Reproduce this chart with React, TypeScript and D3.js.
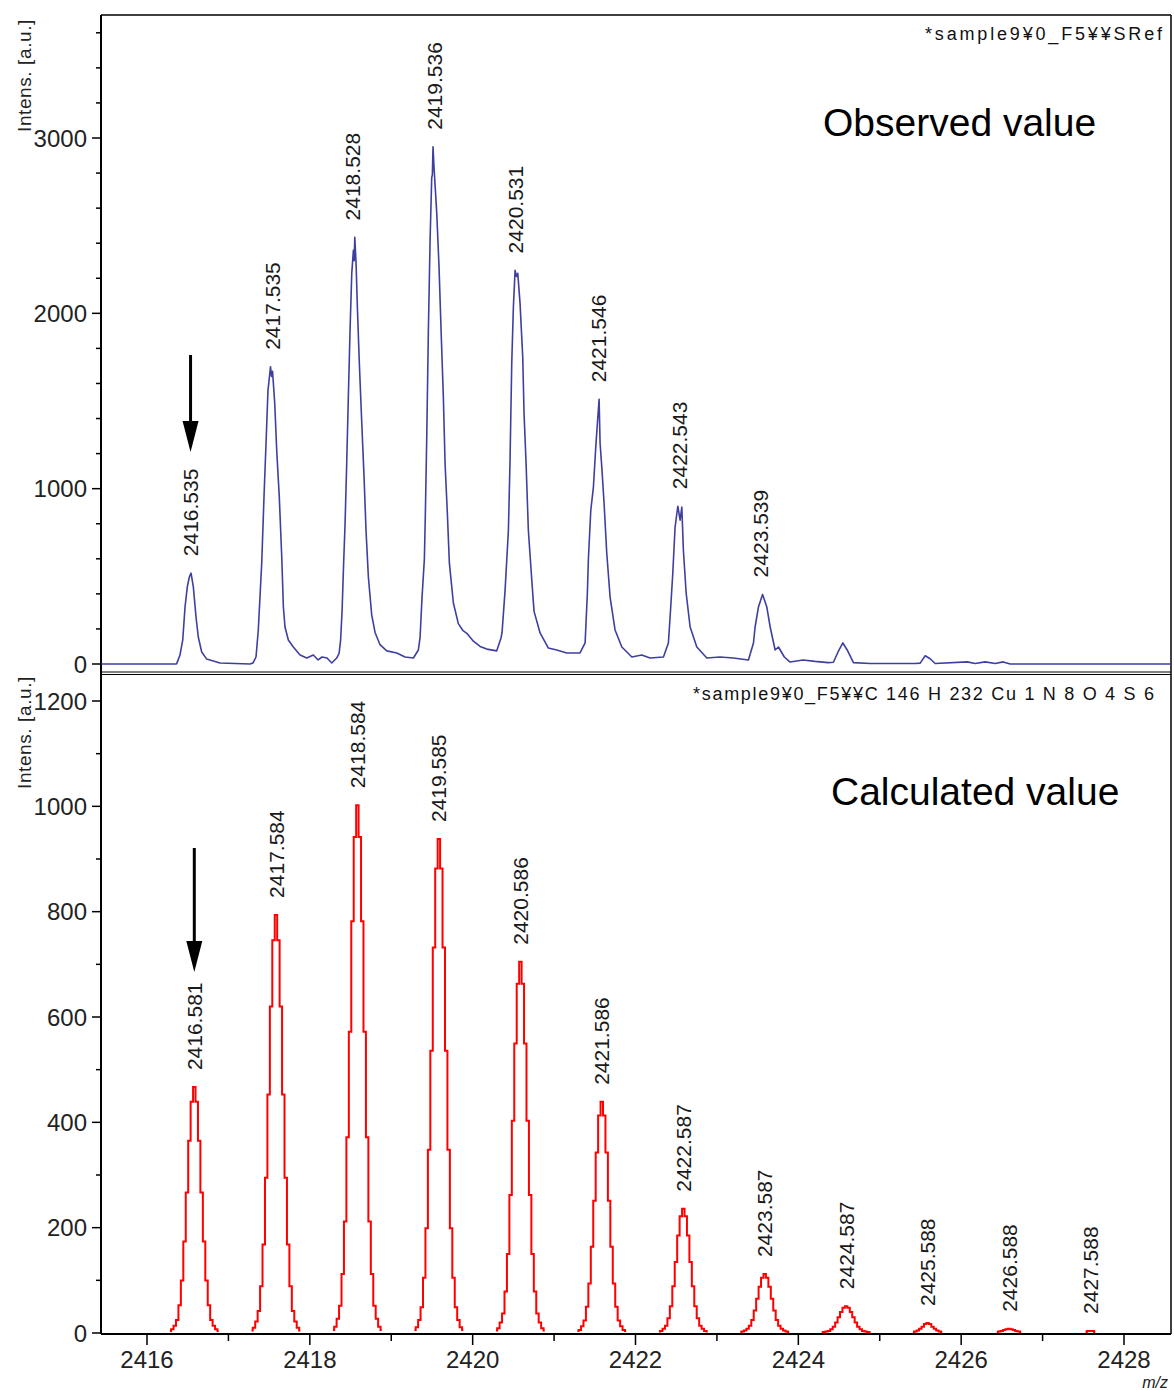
import React from "react";
import * as d3 from "d3";

// observed spectrum (m/z, intensity)
const observedPoints: [number, number][] = [
    [2415.44, 0], [2416.36, 0], [2416.365, 2], [2416.405, 51], [2416.439, 137], [2416.467, 325],
    [2416.495, 440], [2416.52, 496], [2416.541, 518], [2416.569, 440], [2416.602, 268], [2416.63, 154],
    [2416.672, 68], [2416.733, 28], [2416.897, 6], [2417.265, 0], [2417.302, 6], [2417.339, 40],
    [2417.367, 194], [2417.409, 575], [2417.437, 952], [2417.462, 1259], [2417.486, 1561], [2417.517, 1695],
    [2417.53, 1640], [2417.542, 1670], [2417.569, 1487], [2417.593, 1219], [2417.625, 952], [2417.655, 610],
    [2417.675, 325], [2417.695, 211], [2417.736, 137], [2417.797, 97], [2417.88, 51], [2417.962, 34],
    [2418.043, 51], [2418.101, 23], [2418.15, 40], [2418.211, 34], [2418.269, 6], [2418.33, 34],
    [2418.359, 60], [2418.377, 130], [2418.396, 300], [2418.414, 560], [2418.432, 790], [2418.453, 1145],
    [2418.473, 1522], [2418.494, 1903], [2418.515, 2228], [2418.535, 2359], [2418.545, 2300], [2418.552, 2433],
    [2418.568, 2285], [2418.584, 2034], [2418.608, 1715], [2418.638, 1373], [2418.666, 1066], [2418.69, 763],
    [2418.719, 496], [2418.76, 280], [2418.801, 180], [2418.862, 110], [2418.945, 75], [2419.068, 63],
    [2419.17, 40], [2419.272, 34], [2419.333, 80], [2419.354, 150], [2419.378, 380], [2419.407, 600],
    [2419.419, 860], [2419.436, 1293], [2419.456, 1903], [2419.477, 2416], [2419.497, 2775], [2419.505, 2790],
    [2419.513, 2950], [2419.526, 2826], [2419.559, 2570], [2419.587, 2262], [2419.612, 1903], [2419.64, 1522],
    [2419.661, 1145], [2419.689, 860], [2419.714, 575], [2419.763, 348], [2419.824, 230], [2419.882, 190],
    [2419.928, 175], [2420.009, 130], [2420.091, 100], [2420.173, 85], [2420.296, 75], [2420.349, 150],
    [2420.361, 180], [2420.398, 420], [2420.439, 763], [2420.459, 1162], [2420.48, 1715], [2420.5, 2034],
    [2420.521, 2245], [2420.539, 2210], [2420.554, 2228], [2420.582, 2057], [2420.615, 1749], [2420.631, 1430],
    [2420.656, 1145], [2420.684, 763], [2420.726, 479], [2420.754, 300], [2420.828, 177], [2420.93, 91],
    [2421.033, 80], [2421.156, 63], [2421.319, 63], [2421.381, 120], [2421.409, 405], [2421.421, 593],
    [2421.451, 877], [2421.483, 1009], [2421.512, 1237], [2421.537, 1407], [2421.553, 1510], [2421.565, 1259],
    [2421.586, 1123], [2421.614, 917], [2421.647, 632], [2421.688, 382], [2421.749, 194], [2421.832, 97],
    [2421.955, 40], [2422.077, 51], [2422.179, 34], [2422.343, 40], [2422.404, 120], [2422.425, 268],
    [2422.458, 518], [2422.486, 780], [2422.52, 900], [2422.548, 820], [2422.569, 895], [2422.588, 650],
    [2422.622, 405], [2422.671, 211], [2422.753, 97], [2422.876, 34], [2423.039, 40], [2423.203, 34],
    [2423.387, 23], [2423.449, 120], [2423.469, 211], [2423.51, 325], [2423.561, 397], [2423.613, 325],
    [2423.654, 211], [2423.715, 80], [2423.756, 97], [2423.828, 40], [2423.899, 11], [2424.059, 23],
    [2424.206, 15], [2424.366, 8], [2424.431, 10], [2424.489, 70], [2424.547, 120], [2424.6, 80],
    [2424.677, 8], [2424.882, 3], [2425.251, 3], [2425.435, 3], [2425.497, 5], [2425.558, 47],
    [2425.619, 30], [2425.681, 3], [2426.074, 12], [2426.172, 3], [2426.295, 12], [2426.418, 3],
    [2426.516, 12], [2426.602, 0], [2428.57, 0],
];

const observedLabels = ["2416.535", "2417.535", "2418.528", "2419.536", "2420.531", "2421.546", "2422.543", "2423.539"];

// calculated isotope pattern: peak centres and sampled profile around each
const calcLabels = ["2416.581", "2417.584", "2418.584", "2419.585", "2420.586", "2421.586",
    "2422.587", "2423.587", "2424.587", "2425.588", "2426.588", "2427.588"];
const calcOffsets = [-0.3, -0.27, -0.24, -0.21, -0.18, -0.15, -0.12, -0.09, -0.06, -0.03, 0,
    0.03, 0.06, 0.09, 0.12, 0.15, 0.18, 0.21, 0.24, 0.27, 0.3];
const calcProfiles = [
    [2, 5, 12, 23, 51, 98, 172, 265, 363, 437, 465, 437, 363, 265, 172, 98, 51, 23, 12, 5, 2],
    [3, 8, 20, 40, 87, 166, 293, 451, 618, 744, 792, 744, 618, 451, 293, 166, 87, 40, 20, 8, 3],
    [4, 10, 25, 50, 110, 210, 370, 570, 780, 940, 1000, 940, 780, 570, 370, 210, 110, 50, 25, 10, 4],
    [4, 9, 23, 47, 103, 197, 346, 534, 730, 880, 936, 880, 730, 534, 346, 197, 103, 47, 23, 9, 4],
    [3, 7, 18, 35, 77, 148, 260, 401, 548, 661, 703, 661, 548, 401, 260, 148, 77, 35, 18, 7, 3],
    [2, 4, 11, 22, 48, 92, 162, 249, 341, 411, 437, 411, 341, 249, 162, 92, 48, 22, 11, 4, 2],
    [1, 2, 6, 12, 26, 49, 87, 133, 183, 220, 234, 220, 183, 133, 87, 49, 26, 12, 6, 2, 1],
    [0, 1, 3, 6, 12, 23, 41, 63, 86, 103, 110, 103, 86, 63, 41, 23, 12, 6, 3, 1, 0],
    [0, 0, 1, 2, 5, 10, 18, 28, 38, 46, 49, 46, 38, 28, 18, 10, 5, 2, 1, 0, 0],
    [0, 0, 0, 0, 0, 1, 3, 6, 10, 15, 17, 15, 10, 6, 3, 1, 0, 0, 0, 0, 0],
    [0, 0, 0, 0, 0, 0, 1, 2, 4, 5, 6, 5, 4, 2, 1, 0, 0, 0, 0, 0, 0],
    [0, 0, 0, 0, 0, 0, 0, 0, 0, 2, 2, 2, 0, 0, 0, 0, 0, 0, 0, 0, 0],
];

const xTicks = d3.range(2416, 2429, 1);
const obsTicks = d3.range(0, 3601, 200);
const calcTicks = d3.range(0, 1201, 100);

const FONT = "'Liberation Sans', Arial, Helvetica, sans-serif";

export default function App() {
    const left = 101, right = 1171, top = 15, sep = 672, bottom = 1334;

    const x = d3.scaleLinear().domain([2416, 2428]).range([147, 1124]);
    const yObs = d3.scaleLinear().domain([0, 3000]).range([664, 138]);
    const yCalc = d3.scaleLinear().domain([0, 1200]).range([1333, 701]);

    const obsLine = d3.line<[number, number]>().x((d) => x(d[0])).y((d) => yObs(d[1]));
    const calcLine = d3.line<[number, number]>()
        .x((d) => x(d[0]))
        .y((d) => yCalc(d[1]) - 1)
        .curve(d3.curveStep);

    // height of the observed trace around each labelled m/z
    const obsPeakTop = (mz: number) =>
        d3.max(observedPoints.filter((p) => Math.abs(p[0] - mz) < 0.08), (p) => p[1]) ?? 0;

    const label = (key: string, px: number, py: number) => (
        <text key={key} transform={`translate(${px},${py}) rotate(-90)`} dy="0.36em"
              fontSize={21} fill="#1a1a1a">{key}</text>
    );

    const arrow = (ax: number, y1: number, y2: number) => (
        <g>
            <line x1={ax} x2={ax} y1={y1} y2={y2 - 20} stroke="#000" strokeWidth={3} />
            <path d={`M${ax - 8},${y2 - 31} L${ax + 8},${y2 - 31} L${ax},${y2} Z`} fill="#000" />
        </g>
    );

    return (
        <div>
            <style>{`body{margin:0}`}</style>
            <svg width={1174} height={1390} style={{ display: "block", fontFamily: FONT }}>
                <rect width={1174} height={1390} fill="#fff" />

                {/* frames */}
                <g stroke="#000" fill="none">
                    <line x1={left} x2={right} y1={top} y2={top} strokeWidth={1.5} />
                    <line x1={left} x2={left} y1={top} y2={bottom} strokeWidth={2} />
                    <line x1={right} x2={right} y1={top} y2={bottom} strokeWidth={1.5} />
                    <line x1={left} x2={right} y1={sep} y2={sep} strokeWidth={1.2} />
                    <line x1={left} x2={right} y1={sep + 2.5} y2={sep + 2.5} strokeWidth={1.2} />
                    <line x1={left} x2={right} y1={bottom} y2={bottom} strokeWidth={2} />
                </g>

                {/* y axis, observed */}
                {obsTicks.map((t) => (
                    <g key={"o" + t}>
                        <line x1={t % 1000 === 0 ? 92 : 96} x2={left} y1={yObs(t)} y2={yObs(t)} stroke="#000" strokeWidth={1.5} />
                        {t % 1000 === 0 && (
                            <text x={87} y={yObs(t)} dy="0.36em" textAnchor="end" fontSize={24} fill="#222">{t}</text>
                        )}
                    </g>
                ))}

                {/* y axis, calculated */}
                {calcTicks.map((t) => (
                    <g key={"c" + t}>
                        <line x1={t % 200 === 0 ? 92 : 96} x2={left} y1={yCalc(t)} y2={yCalc(t)} stroke="#000" strokeWidth={1.5} />
                        {t % 200 === 0 && (
                            <text x={87} y={yCalc(t)} dy="0.36em" textAnchor="end" fontSize={24} fill="#222">{t}</text>
                        )}
                    </g>
                ))}

                {/* x axis */}
                {xTicks.map((t) => (
                    <g key={"x" + t}>
                        <line x1={x(t)} x2={x(t)} y1={bottom} y2={t % 2 === 0 ? bottom + 11 : bottom + 7} stroke="#000" strokeWidth={1.5} />
                        {t % 2 === 0 && (
                            <text x={x(t)} y={1368} textAnchor="middle" fontSize={24} fill="#222">{t}</text>
                        )}
                    </g>
                ))}
                <text x={1168} y={1388} textAnchor="end" fontSize={16} fill="#222" fontStyle="italic">m/z</text>

                {/* axis titles */}
                <text transform="translate(31,132) rotate(-90)" fontSize={19} letterSpacing={0.6} fill="#222">Intens. [a.u.]</text>
                <text transform="translate(31,789) rotate(-90)" fontSize={19} letterSpacing={0.6} fill="#222">Intens. [a.u.]</text>

                {/* headers */}
                <text x={925} y={40} fontSize={18} textLength={237} lengthAdjust="spacing" fill="#111">*sample9¥0_F5¥¥SRef</text>
                <text x={693} y={700} fontSize={18} textLength={461} lengthAdjust="spacing" fill="#111">*sample9¥0_F5¥¥C 146 H 232 Cu 1 N 8 O 4 S 6</text>

                <text x={823} y={136} fontSize={39} fill="#000">Observed value</text>
                <text x={831} y={805} fontSize={39} fill="#000">Calculated value</text>

                {/* spectra */}
                <path d={obsLine(observedPoints) ?? ""} fill="none" stroke="#3f3fa0" strokeWidth={1.6} strokeLinejoin="round" />
                {calcLabels.map((c, i) => {
                    // small peaks: only the samples that carry intensity are drawn
                    const pts = calcOffsets
                        .map((o, j) => [+c + o, calcProfiles[i][j]] as [number, number])
                        .filter((p, j, arr) => i < 9 || p[1] > 0 || (arr[j - 1] && arr[j - 1][1] > 0) || (arr[j + 1] && arr[j + 1][1] > 0));
                    return <path key={c} d={calcLine(pts) ?? ""} fill="none" stroke="#ff0000" strokeWidth={2} />;
                })}

                {/* peak labels */}
                {observedLabels.map((l) => label(l, x(+l), yObs(obsPeakTop(+l)) - 17))}
                {calcLabels.map((l, i) => label(l, x(+l), yCalc(d3.max(calcProfiles[i]) ?? 0) - 18))}

                {/* arrows */}
                {arrow(x(+observedLabels[0]), 355, 452)}
                {arrow(x(+calcLabels[0]), 848, 972)}
            </svg>
        </div>
    );
}
